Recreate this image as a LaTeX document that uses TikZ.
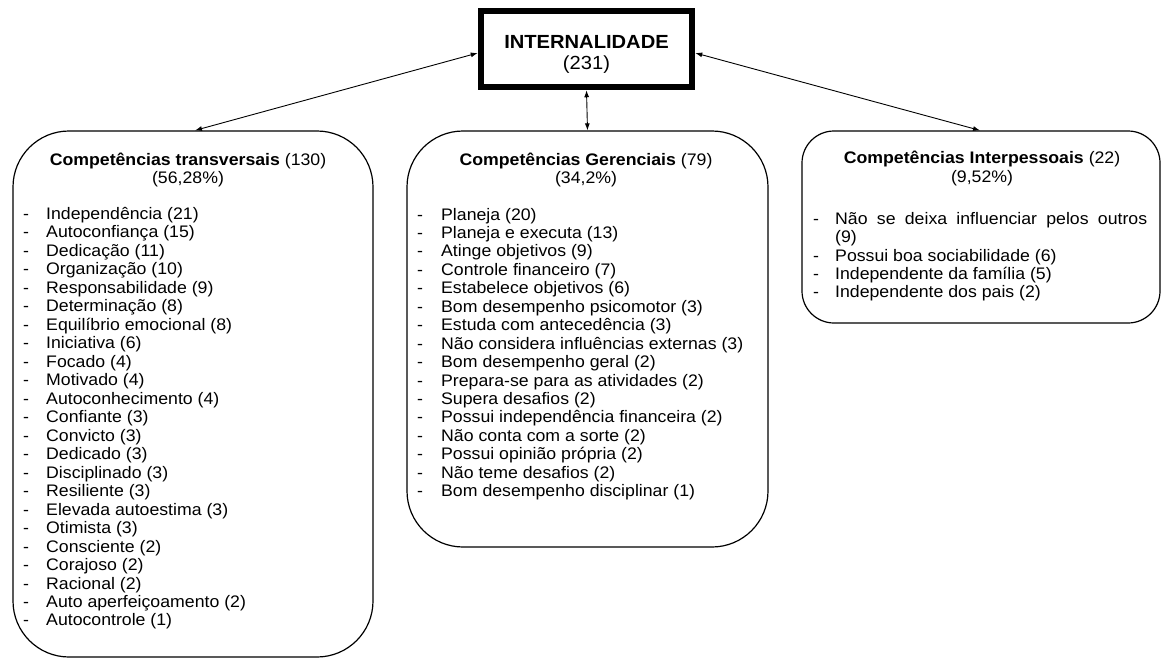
\documentclass[tikz,border=0pt]{standalone}
\usepackage{fontspec}
\setmainfont{Liberation Sans}[FakeStretch=1.06]
\usetikzlibrary{arrows.meta}
\begin{document}
\begin{tikzpicture}[x=1pt,y=-1pt,
  txt/.style={font=\fontsize{16.7}{18.5}\selectfont, inner sep=0pt, anchor=base},
  itm/.style={txt, anchor=base west},
  grp/.style={draw, line width=1.2pt, rounded corners=#1, inner sep=0pt},
  link/.style={line width=0.9pt, {Latex[length=7pt,width=5pt]}-{Latex[length=7pt,width=5pt]}}]
\useasboundingbox (0,0) rectangle (1162,661);

% central box
\node[draw, line width=6.5pt, minimum width=211pt, minimum height=76pt, inner sep=0pt] (intl) at (586.5,49) {};
\node[txt, font=\fontsize{19}{21}\selectfont\bfseries] (intlT) at (586.5,48.8) {INTERNALIDADE};
\node[txt, font=\fontsize{19}{21}\selectfont] (intlN) at (586.5,70) {(231)};

% three groups
\node[grp=56pt, minimum width=360pt, minimum height=526pt] (lt) at (193,394) {};
\node[grp=56pt, minimum width=361pt, minimum height=416pt] (md) at (587.5,339) {};
\node[grp=32pt, minimum width=358pt, minimum height=192pt] (rt) at (981,227) {};

% connectors
\draw[link] ([yshift=-4pt]intl.west) -- ([xshift=2pt]lt.north);
\draw[link] (intl.south) -- (md.north);
\draw[link] ([yshift=-4pt]intl.east) -- ([xshift=-1pt]rt.north);

% titles
\node[txt] (ltT) at (188,165.3) {\textbf{Competências transversais} (130)};
\node[txt] (ltP) at (188,183.3) {(56,28\%)};
\node[txt] (mdT) at (586,165.3) {\textbf{Competências Gerenciais} (79)};
\node[txt] (mdP) at (586,183.3) {(34,2\%)};
\node[txt] (rtT) at (982,163.3) {\textbf{Competências Interpessoais} (22)};
\node[txt] (rtP) at (982,182.7) {(9,52\%)};

% left list
\foreach \t [count=\i] in {Independência (21), Autoconfiança (15), Dedicação (11),
  Organização (10), Responsabilidade (9), Determinação (8), Equilíbrio emocional (8),
  Iniciativa (6), Focado (4), Motivado (4), Autoconhecimento (4), Confiante (3),
  Convicto (3), Dedicado (3), Disciplinado (3), Resiliente (3), Elevada autoestima (3),
  Otimista (3), Consciente (2), Corajoso (2), Racional (2), Auto aperfeiçoamento (2),
  Autocontrole (1)}
  \node[itm] (lt\i) at (23,{219.4+(\i-1)*18.48}) {\makebox[23pt][l]{-}\t};

% middle list
\foreach \t [count=\i] in {Planeja (20), Planeja e executa (13), Atinge objetivos (9),
  Controle financeiro (7), Estabelece objetivos (6), Bom desempenho psicomotor (3),
  Estuda com antecedência (3), Não considera influências externas (3),
  Bom desempenho geral (2), Prepara-se para as atividades (2), Supera desafios (2),
  Possui independência financeira (2), Não conta com a sorte (2),
  Possui opinião própria (2), Não teme desafios (2), Bom desempenho disciplinar (1)}
  \node[itm] (md\i) at (417,{220+(\i-1)*18.45}) {\makebox[24pt][l]{-}\t};

% right list
\node[itm] (rt1) at (813,224.3) {\makebox[22pt][l]{-}\makebox[312pt][s]{Não se deixa influenciar pelos outros}};
\node[itm] (rt1b) at (835,242.7) {(9)};
\node[itm] (rt2) at (813,261) {\makebox[22pt][l]{-}Possui boa sociabilidade (6)};
\node[itm] (rt3) at (813,279.4) {\makebox[22pt][l]{-}Independente da família (5)};
\node[itm] (rt4) at (813,297.8) {\makebox[22pt][l]{-}Independente dos pais (2)};
\end{tikzpicture}
\end{document}
